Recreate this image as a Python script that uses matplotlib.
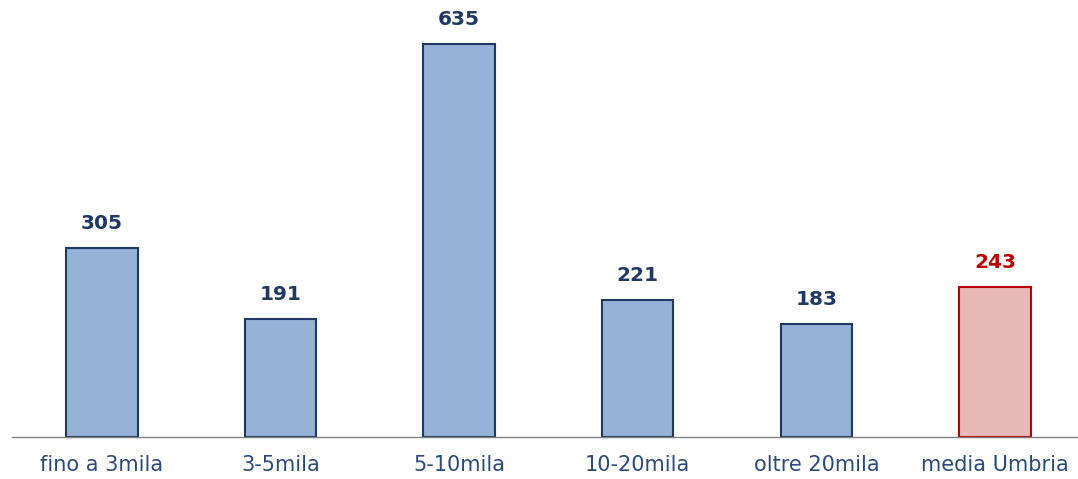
import matplotlib.pyplot as plt

categorie = ["fino a 3mila", "3-5mila", "5-10mila", "10-20mila", "oltre 20mila", "media Umbria"]
valori = [305, 191, 635, 221, 183, 243]

blu_fill = "#95B3D7"
blu_bordo = "#1F3864"
rosso_fill = "#E6B9B8"
rosso_bordo = "#C00000"

colori = [blu_fill] * 5 + [rosso_fill]
bordi = [blu_bordo] * 5 + [rosso_bordo]
colori_testo = [blu_bordo] * 5 + [rosso_bordo]

fig = plt.figure(figsize=(10.78, 4.79), dpi=100)
ax = fig.add_axes([12 / 1078, 1 - 437 / 479, 1066 / 1078, (437 - 44) / 479])

x = range(len(categorie))
ax.bar(x, valori, width=0.40, color=colori, edgecolor=bordi, linewidth=1.5,
       zorder=2, clip_on=False)

# etichette dei valori sopra le barre
for i, v in enumerate(valori):
    ax.text(i, v + 24, str(v), ha="center", va="bottom", fontsize=14.5,
            fontweight="bold", color=colori_testo[i], family="DejaVu Sans")

ax.set_xlim(-0.504, 5.465)
ax.set_ylim(0, 635)
ax.set_xticks(list(x))
ax.set_xticklabels(categorie, fontsize=15, color="#2A4A7F")
ax.tick_params(axis="x", length=0, pad=13)
ax.set_yticks([])
for s in ["top", "right", "left"]:
    ax.spines[s].set_visible(False)
ax.spines["bottom"].set_color("#808080")
ax.spines["bottom"].set_linewidth(1)

fig.savefig("out.png", dpi=100)
